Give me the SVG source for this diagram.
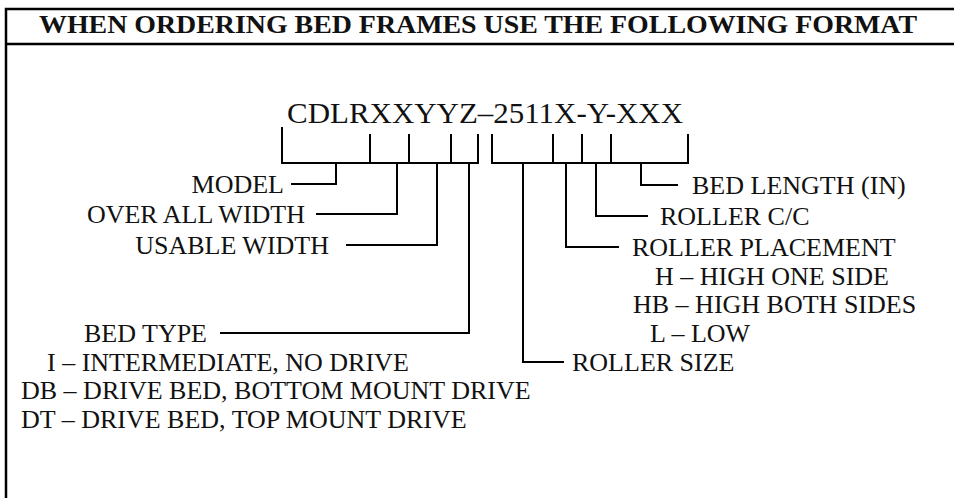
<svg xmlns="http://www.w3.org/2000/svg" width="954" height="498" viewBox="0 0 954 498">
<style>
text{font-family:"Liberation Serif","Times New Roman",serif;fill:#111;}
.lbl{font-size:26px;}
.code{font-size:30px;}
.title{font-size:25px;font-weight:bold;}
.ln{stroke:#000;stroke-width:2;fill:none;stroke-linecap:square;}
.frame{stroke:#000;stroke-width:2.5;fill:none;}
</style>
<rect x="0" y="0" width="954" height="498" fill="#fff"/>
<g id="frame">
<path class="frame" d="M6,498 V9 H960 M6,44 H960"/>
</g>
<g id="title"><text class="title" x="478" y="33" text-anchor="middle" textLength="878" lengthAdjust="spacingAndGlyphs">WHEN ORDERING BED FRAMES USE THE FOLLOWING FORMAT</text></g>
<g id="code"><text class="code" x="287" y="123" textLength="396" lengthAdjust="spacingAndGlyphs">CDLRXXYYZ–2511X-Y-XXX</text></g>
<g id="connectors">
<path class="ln" d="M282,128 V163 H478 V135 M370,135 V163 M409,135 V163 M451,135 V163"/>
<path class="ln" d="M492,135 V163 H688 V135 M553,135 V163 M582,135 V163 M611,135 V163"/>
<path class="ln" d="M336,163 V184 H292"/>
<path class="ln" d="M397,163 V214 H317"/>
<path class="ln" d="M437,163 V245 H347"/>
<path class="ln" d="M469,163 V333 H221"/>
<path class="ln" d="M641,163 V185 H677"/>
<path class="ln" d="M596,163 V216 H647"/>
<path class="ln" d="M566,163 V247 H618"/>
<path class="ln" d="M523,163 V362 H563"/>
</g>
<g id="model"><text class="lbl" x="284" y="193" text-anchor="end">MODEL</text></g>
<g id="over-all-width"><text class="lbl" x="305" y="223" text-anchor="end">OVER ALL WIDTH</text></g>
<g id="usable-width"><text class="lbl" x="329" y="254" text-anchor="end">USABLE WIDTH</text></g>
<g id="bed-type">
<text class="lbl" x="207" y="342" text-anchor="end">BED TYPE</text>
<text class="lbl" x="47" y="371">I – INTERMEDIATE, NO DRIVE</text>
<text class="lbl" x="21" y="399">DB – DRIVE BED, BOTTOM MOUNT DRIVE</text>
<text class="lbl" x="21" y="428">DT – DRIVE BED, TOP MOUNT DRIVE</text>
</g>
<g id="bed-length"><text class="lbl" x="692" y="194">BED LENGTH (IN)</text></g>
<g id="roller-cc"><text class="lbl" x="660" y="225">ROLLER C/C</text></g>
<g id="roller-placement">
<text class="lbl" x="632" y="256">ROLLER PLACEMENT</text>
<text class="lbl" x="655" y="285">H – HIGH ONE SIDE</text>
<text class="lbl" x="633" y="313">HB – HIGH BOTH SIDES</text>
<text class="lbl" x="650" y="342">L – LOW</text>
</g>
<g id="roller-size"><text class="lbl" x="572" y="371">ROLLER SIZE</text></g>
</svg>
